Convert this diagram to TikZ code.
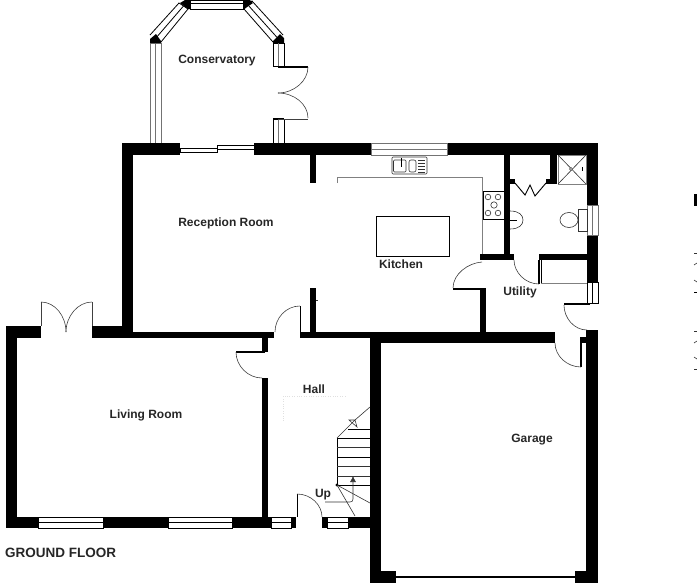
\documentclass[tikz,border=0pt]{standalone}
\usepackage{fontspec}
\setmainfont{Liberation Sans}
\usepackage{tikz}
\usetikzlibrary{arrows.meta}
\tikzstyle{wall}=[fill=black]
\tikzstyle{glazing}=[draw=black, fill=white, line width=0.8pt]
\tikzstyle{glazinggray}=[draw=black!55, fill=white, line width=0.9pt]
\tikzstyle{leaf}=[draw=black, line width=0.9pt]
\tikzstyle{swing}=[draw=black!75, line width=0.6pt]
\tikzstyle{fitting}=[draw=black!80, line width=0.6pt]
\tikzstyle{worktop}=[draw=gray, line width=0.8pt]
\tikzstyle{roomlabel}=[font=\bfseries\fontsize{12}{14}\selectfont, text=black!85, inner sep=0pt, anchor=base]

\begin{document}
\begin{tikzpicture}[x=1pt, y=-1pt]
\useasboundingbox (0,0) rectangle (697,584);

% conservatory
\draw[glazinggray] (150,43) rectangle (161,143);
\draw[glazinggray] (155.5,43) -- (155.5,143);
\draw[glazing] (150,35) -- (179,3) -- (188,9) -- (161,42);
\draw[glazing] (155.5,38.5) -- (183.5,6);
\draw[glazing] (190,0) rectangle (243,9);
\draw[glazing] (190,3) -- (243,3);
\draw[glazing] (283,35) -- (252,1) -- (244,9) -- (273,42);
\draw[glazing] (278,38.5) -- (248,5);
\draw[glazing] (273,43) rectangle (284,66);
\draw[glazinggray] (278.5,43) -- (278.5,66);
\draw[glazing] (273,119) rectangle (284,143);
\draw[glazinggray] (278.5,119) -- (278.5,143);
\fill[wall] (150,43) -- (161,43) -- (161,41) -- (156,34) -- (150,39) -- cycle;
\fill[wall] (180,3) -- (185,0) -- (190,0) -- (190,9) -- (188,9) -- cycle;
\fill[wall] (243,0) -- (250,0) -- (253,3) -- (244,9) -- (243,9) -- cycle;
\fill[wall] (273,43) -- (284,43) -- (284,38) -- (280,34) -- (273,41) -- cycle;
\fill[wall] (278,65.5) rectangle (308,67.5);
\fill[wall] (273,118) rectangle (284,120);
\draw[swing] (278,119) -- (308,119);
\draw[swing] (308,67) .. controls (308,81) and (294,93) .. (278,93);
\draw[swing] (308,118) .. controls (308,104) and (294,93) .. (278,93);

% sliding doors
\draw[glazing] (180,148) rectangle (217,152.5);
\draw[glazing] (217,145) rectangle (254,149);

% outer and inner walls
\fill[wall] (122,143) rectangle (180,155);
\fill[wall] (254,143) rectangle (371,155);
\fill[wall] (447,143) rectangle (598,155);
\fill[wall] (122,155) rectangle (133,332);
\fill[wall] (309.5,155) rectangle (316,183);
\fill[wall] (310,288) rectangle (316,332);
\fill[wall] (587,155) rectangle (598,205);
\fill[wall] (587,235) rectangle (598,282);
\fill[wall] (539,254) rectangle (587,260);
\fill[wall] (504,155) rectangle (510,255);
\fill[wall] (480,254) rectangle (514,260);
\fill[wall] (480,288) rectangle (486,332);
\fill[wall] (300,332) rectangle (370,338);
\fill[wall] (370,332) rectangle (555,343);
\fill[wall] (370,343) rectangle (381,583);
\fill[wall] (370,571) rectangle (396,583);
\fill[wall] (575,571) rectangle (598,583);
\fill[wall] (586,330) rectangle (598,571);
\fill[wall] (580,337) rectangle (586,343);
\fill[wall] (6,326) rectangle (41,338);
\fill[wall] (6,338) rectangle (17,528);
\fill[wall] (6,517) rectangle (38,528);
\fill[wall] (103,517) rectangle (168,528);
\fill[wall] (232,517) rectangle (271,528);
\fill[wall] (92,326) rectangle (133,338);
\fill[wall] (133,332) rectangle (274,338);
\fill[wall] (262,338) rectangle (268,352);
\fill[wall] (262,378) rectangle (268,517);
\fill[wall] (291,517) rectangle (296,528);
\fill[wall] (322,517) rectangle (327,528);
\fill[wall] (348,517) rectangle (370,528);
\draw[fitting] (316,300) -- (318,300);

% windows
\draw[glazinggray] (371,143) rectangle (447,155);
\draw[glazinggray] (371,149) -- (447,149);
\draw[glazinggray] (587,205) rectangle (598,235);
\draw[glazinggray] (592.5,205) -- (592.5,235);
\draw[glazing] (587,282) rectangle (598,303);
\draw[glazing] (592.5,282) -- (592.5,303);
\draw[glazing] (38,517) rectangle (103,528);
\draw[glazing] (38,522.5) -- (103,522.5);
\draw[glazing] (168,517) rectangle (232,528);
\draw[glazing] (168,522.5) -- (232,522.5);
\draw[glazing] (271,517) rectangle (291,528);
\draw[glazing] (271,522.5) -- (291,522.5);
\draw[glazing] (327,517) rectangle (348,528);
\draw[glazing] (327,522.5) -- (348,522.5);

% doors
\fill[wall] (396,576) rectangle (575,578);
\draw[swing] (41,302) -- (41,326);
\draw[swing] (92,302) -- (92,326);
\draw[swing] (41,302) .. controls (55,302) and (66,316) .. (66,332);
\draw[swing] (92,302) .. controls (78,302) and (66,316) .. (66,332);
\fill[wall] (236,351) rectangle (265,353);
\draw[swing] (236,352) .. controls (236,366) and (248,378) .. (262,378);
\draw[leaf] (300,306) -- (300,332);
\draw[swing] (300,306) .. controls (286,306) and (275,318) .. (275,332);
\draw[leaf] (297,494) -- (297,517);
\draw[swing] (297,494) .. controls (311,494) and (322,505) .. (322,517);
\fill[wall] (453,288) rectangle (486,290);
\draw[swing] (453,288) .. controls (453,274) and (468,263) .. (482,262);
\fill[wall] (538,260) rectangle (540,284);
\draw[swing] (539,284) .. controls (525,284) and (514,272) .. (514,260);
\fill[wall] (564,303) rectangle (590,305);
\draw[swing] (564,305) .. controls (564,318) and (574,330) .. (587,330);
\fill[wall] (580,343) rectangle (582,367);
\draw[swing] (581,367) .. controls (567,367) and (555,356) .. (555,343);

% kitchen
\draw[worktop] (337,183) -- (337,177) -- (482,177) -- (482,254);
\draw[leaf] (376.5,216) rectangle (449,256);
\draw[fitting, rounded corners=1pt] (392,157) rectangle (427,174);
\draw[fitting, rounded corners=1pt] (393.5,160) rectangle (406,172);
\draw[fitting, rounded corners=2pt] (409,160) rectangle (416,172);
\draw[leaf] (401,158) -- (401,167);
\draw[fitting] (418,160) -- (425,160);
\draw[fitting] (418,163) -- (425,163);
\draw[fitting] (418,166) -- (425,166);
\draw[fitting] (418,169) -- (425,169);
\draw[fitting] (418,172) -- (425,172);
\draw[leaf] (483,191) rectangle (504,219);
\draw[fitting] (488,197) circle (2.8);
\draw[fitting] (498,197) circle (2.8);
\draw[fitting] (494,205) circle (3.2);
\draw[fitting] (488,213) circle (2.8);
\draw[fitting] (498,213) circle (2.8);

% bathroom
\draw[worktop] (558,155) rectangle (586,184);
\draw[fitting] (558,155) -- (586,184);
\draw[fitting] (586,155) -- (558,184);
\draw[fitting, fill=white] (571,169) circle (1.5);
\draw[leaf] (582,167) -- (582,171);
\fill[wall] (550,155) rectangle (557,184);
\fill[wall] (546,179) rectangle (550,184);
\fill[wall] (510,179) rectangle (515,184);
\draw[leaf] (515,183) -- (525,195) -- (530,185) -- (535,196) -- (546,183);
\draw[fitting] (510,211) .. controls (519,211) and (523,215) .. (523,220) .. controls (523,225) and (519,229) .. (510,229);
\draw[leaf] (510,220) -- (517,220);
\draw[fitting] (578,209) rectangle (587,231);
\draw[fitting] (569,220) ellipse (9 and 7.5);
\draw[leaf] (541,260) -- (541,283);
\draw[worktop] (541,283) -- (587,283);

% stairs
\draw[leaf] (337,438) -- (337,485);
\draw[leaf] (337,438) -- (370,438);
\draw[fitting] (337,447) -- (370,447);
\draw[leaf] (337,457) -- (370,457);
\draw[fitting] (337,466) -- (370,466);
\draw[fitting] (337,476) -- (370,476);
\draw[leaf] (337,485) -- (370,485);
\draw[leaf] (348,429) -- (370,429);
\draw[fitting] (337,438) -- (355,420) -- (349,420) -- (357,427) -- (355,420) -- (370,407);
\fill[wall] (337,485) circle (1.7);
\draw[fitting] (337,485) -- (370,503);
\draw[fitting] (337,485) -- (355,516);
\draw[fitting, -{Latex[length=6pt,width=6pt]}] (325,502) -- (350,502) .. controls (352,502) and (353,501) .. (353,499) -- (353,476);
\draw[draw=black!12, dotted] (345,396) -- (283,396) -- (283,422);

% clipped marks at the page edge
\fill[wall] (694,194) rectangle (697,206);
\draw[fitting] (694,253) -- (697,253);
\draw[fitting] (694,265) -- (697,263);
\draw[fitting] (694,280) -- (697,282);
\draw[leaf] (694,292) -- (697,292);
\draw[fitting] (694,331) -- (697,331);
\draw[fitting] (694,343) -- (697,341);
\draw[fitting] (694,357) -- (697,359);
\draw[fitting] (694,369) -- (697,369);

% room names
\node[roomlabel] (conservatory) at (217,63) {Conservatory};
\node[roomlabel] (reception) at (226,226) {Reception Room};
\node[roomlabel] (kitchen) at (401,268.5) {Kitchen};
\node[roomlabel] (utility) at (520,295) {Utility};
\node[roomlabel] (living) at (146,418) {Living Room};
\node[roomlabel] (hall) at (314,393.5) {Hall};
\node[roomlabel] (up) at (323,497) {Up};
\node[roomlabel] (garage) at (532,442) {Garage};
\node[roomlabel, font=\bfseries\fontsize{13.5}{16}\selectfont, anchor=base west] (floor) at (5,557) {GROUND FLOOR};
\end{tikzpicture}
\end{document}
